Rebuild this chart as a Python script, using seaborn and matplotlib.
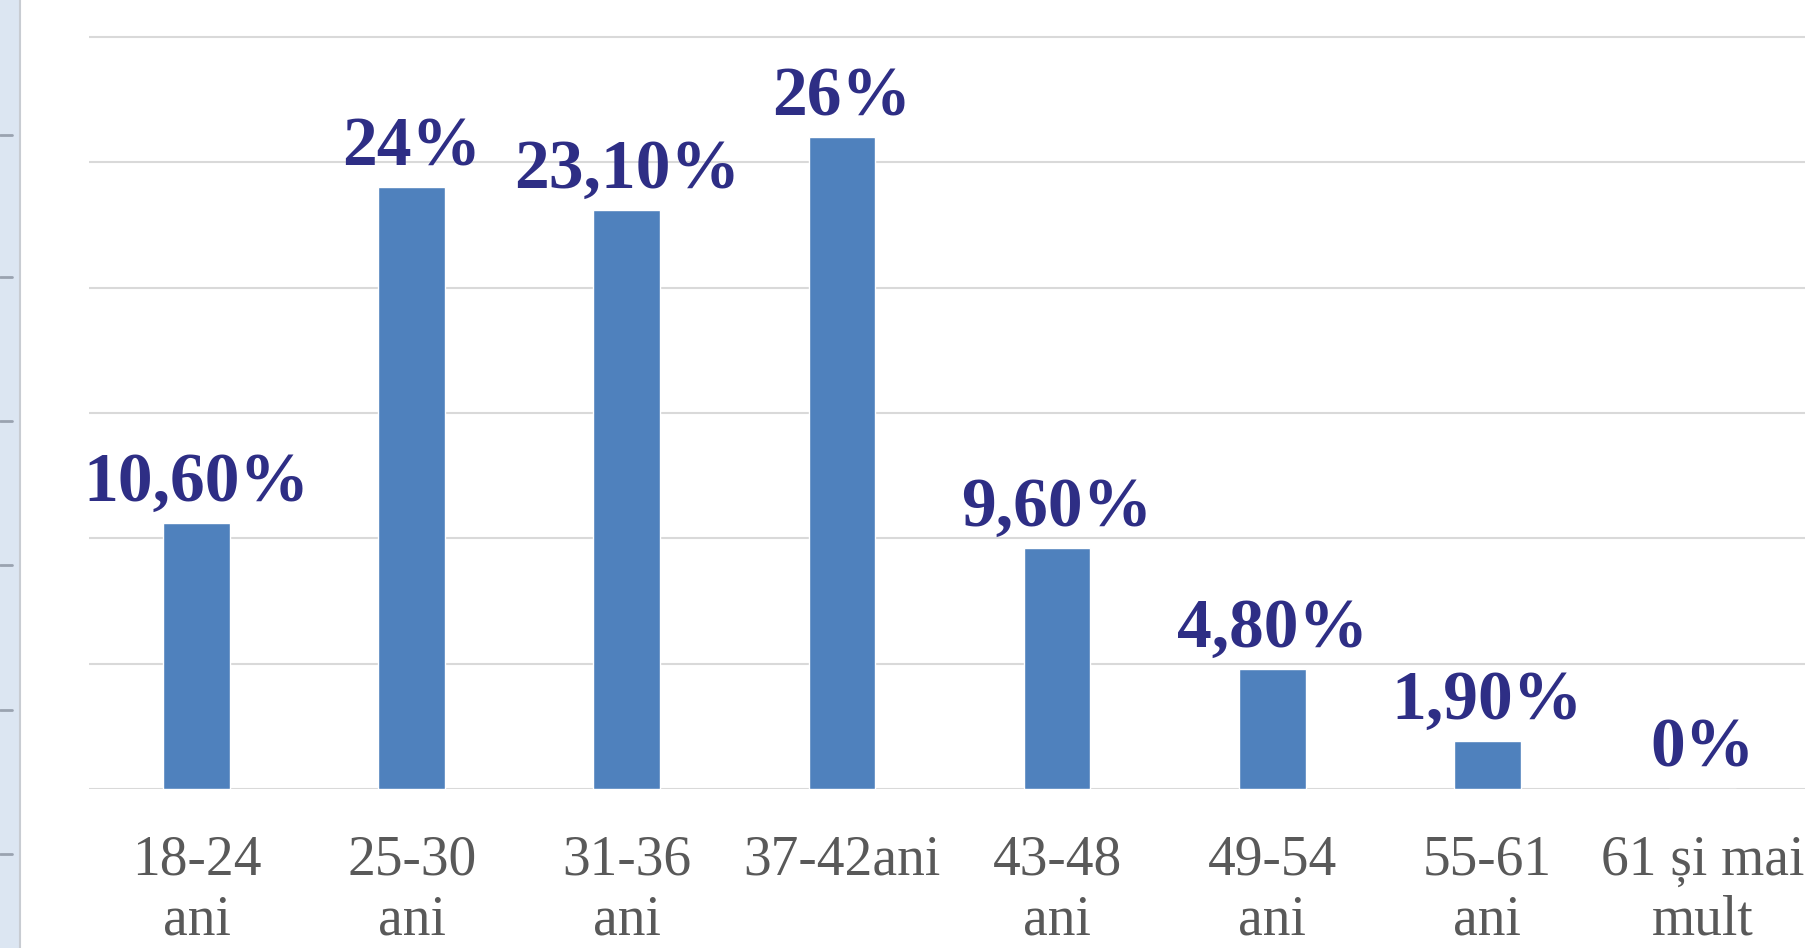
import matplotlib
matplotlib.use("Agg")
import matplotlib.pyplot as plt
from matplotlib.patches import Rectangle
from matplotlib.lines import Line2D
import pandas as pd
import seaborn as sns

# date
categorii = ["18-24\nani", "25-30\nani", "31-36\nani", "37-42ani",
             "43-48\nani", "49-54\nani", "55-61\nani", "61 și mai\nmult"]
procente = [10.6, 24.0, 23.1, 26.0, 9.6, 4.8, 1.9, 0.0]
etichete = ["10,60%", "24%", "23,10%", "26%", "9,60%", "4,80%", "1,90%", "0%"]

df = pd.DataFrame({"varsta": categorii, "procent": procente})

sns.set_style("white")
plt.rcParams["font.family"] = ["Liberation Serif", "DejaVu Serif"]

W, H = 1805, 948
fig = plt.figure(figsize=(W / 100, H / 100), dpi=100)
# zona graficului (partea dreapta iese putin din imagine, ca in captura)
ax = fig.add_axes([89 / W, (H - 789) / H, (1810 - 89) / W, (789 - 12) / H])

sns.barplot(data=df, x="varsta", y="procent", color="#4F81BD",
            width=0.31, saturation=1, ax=ax)

ax.set_ylim(0, 31)
ax.set_xlim(-0.5, 7.5)
ax.set_yticks(range(0, 31, 5))
ax.set_yticklabels([])
ax.yaxis.grid(True, color="#D9D9D9", linewidth=1.5)
ax.set_axisbelow(True)
for s in ax.spines.values():
    s.set_visible(False)
ax.tick_params(axis="both", length=0)
ax.tick_params(axis="x", pad=33, labelsize=40, labelcolor="#595959")
for lbl in ax.get_xticklabels():
    lbl.set_linespacing(1.2)
ax.set_xlabel("")
ax.set_ylabel("")

for bar, txt in zip(ax.patches, etichete):
    ax.annotate(txt, (bar.get_x() + bar.get_width() / 2, bar.get_height()),
                xytext=(0, 16), textcoords="offset points",
                ha="center", va="baseline", fontsize=50,
                fontweight="bold", color="#2E2E85")

# banda riglei din stanga (captura din Word)
fig.add_artist(Rectangle((0, 0), 19 / W, 1, transform=fig.transFigure,
                         color="#DCE6F2", zorder=0))
fig.add_artist(Line2D([20 / W, 20 / W], [0, 1], transform=fig.transFigure,
                      color="#C8CCD2", linewidth=1.5))
for y in [135, 277, 421, 565, 710, 854]:
    fig.add_artist(Line2D([0, 12 / W], [1 - y / H, 1 - y / H],
                          transform=fig.transFigure, color="#9AA3B0",
                          linewidth=2))

fig.savefig("out.png", dpi=100)
